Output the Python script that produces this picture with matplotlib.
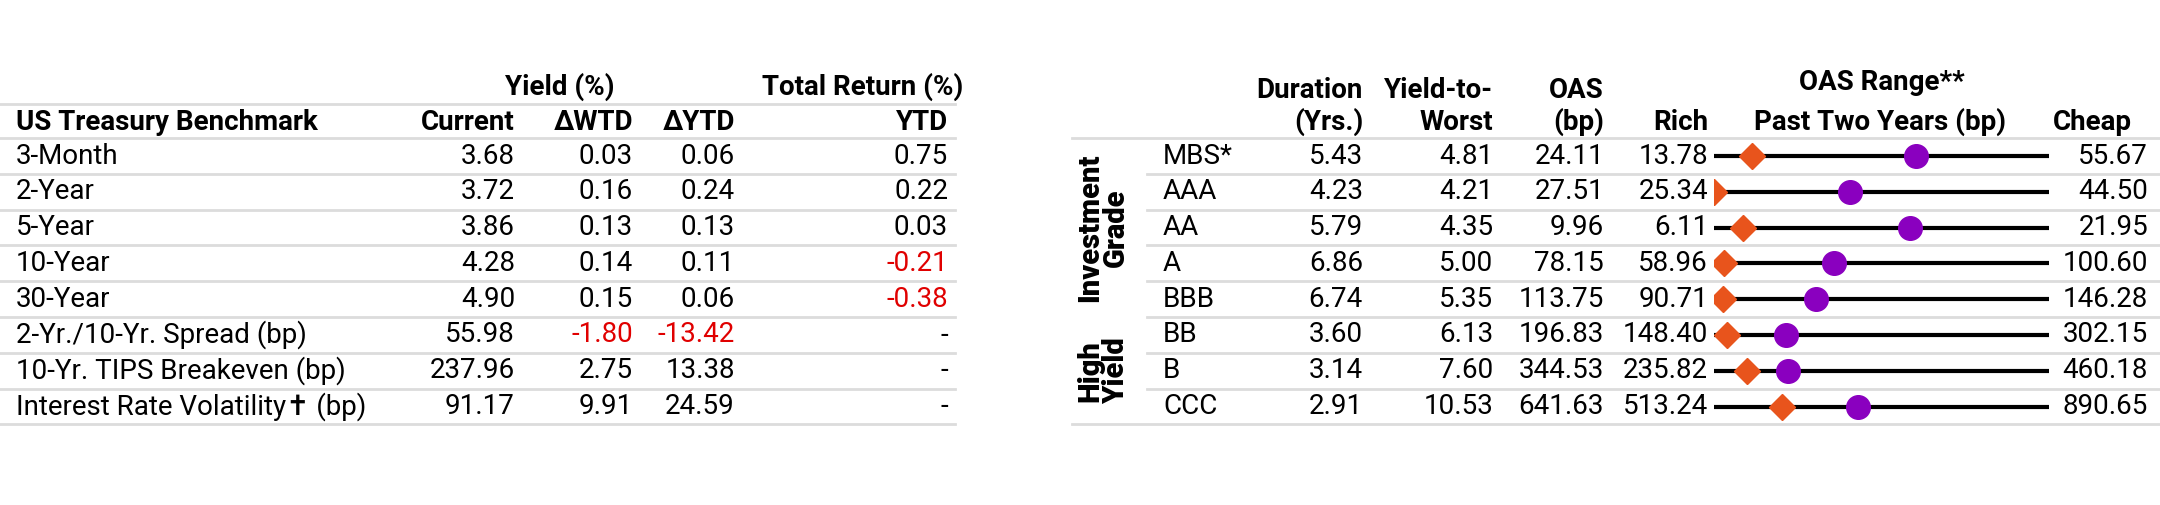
import matplotlib
matplotlib.use("Agg")
import matplotlib.pyplot as plt

plt.rcParams["font.family"] = ["Roboto", "DejaVu Sans"]

# ── Left table: US Treasury benchmarks ─────────────────────────────────────
tsy_names = ["3-Month", "2-Year", "5-Year", "10-Year", "30-Year",
             "2-Yr./10-Yr. Spread (bp)", "10-Yr. TIPS Breakeven (bp)",
             "Interest Rate Volatility\u271d (bp)"]
tsy_current = ["3.68", "3.72", "3.86", "4.28", "4.90", "55.98", "237.96", "91.17"]
tsy_wtd = ["0.03", "0.16", "0.13", "0.14", "0.15", "-1.80", "2.75", "9.91"]
tsy_ytd = ["0.06", "0.24", "0.13", "0.11", "0.06", "-13.42", "13.38", "24.59"]
tsy_tr_ytd = ["0.75", "0.22", "0.03", "-0.21", "-0.38", "-", "-", "-"]

# ── Right table: credit sectors ───────────────────────────────────────────
sectors = ["MBS*", "AAA", "AA", "A", "BBB", "BB", "B", "CCC"]
duration = ["5.43", "4.23", "5.79", "6.86", "6.74", "3.60", "3.14", "2.91"]
ytw = ["4.81", "4.21", "4.35", "5.00", "5.35", "6.13", "7.60", "10.53"]
oas = ["24.11", "27.51", "9.96", "78.15", "113.75", "196.83", "344.53", "641.63"]
rich = [13.78, 25.34, 6.11, 58.96, 90.71, 148.40, 235.82, 513.24]
cheap = [55.67, 44.50, 21.95, 100.60, 146.28, 302.15, 460.18, 890.65]
diamond_bp = [18.5, 25.34, 7.5, 60.2, 92.2, 154.4, 258.0, 589.9]
circle_bp = [39.0, 33.1, 15.4, 73.9, 107.6, 181.5, 285.4, 675.5]

W, H = 2160, 505
FS = 20
RED = "#e00000"
ORANGE = "#e8541c"
PURPLE = "#8a00bf"
GRID = "#dcdcdc"

fig = plt.figure(figsize=(W / 100, H / 100), dpi=100)
ax = fig.add_axes([0, 0, 1, 1])
ax.set_xlim(0, W)
ax.set_ylim(H, 0)
ax.axis("off")

row_y = [156 + 35.8 * i for i in range(8)]
lines_y = [138 + 35.8 * i for i in range(9)]

def is_neg(s):
    return s.startswith("-") and len(s) > 1

# left table
ax.text(560, 87, "Yield (%)", ha="center", va="center", fontsize=FS, fontweight="bold")
ax.text(963, 87, "Total Return (%)", ha="right", va="center", fontsize=FS, fontweight="bold")
ax.plot([0, 955], [104, 104], color=GRID, lw=2)
ax.text(16, 122, "US Treasury Benchmark", ha="left", va="center", fontsize=FS, fontweight="bold")
for x, lab in zip([515, 633, 735, 948], ["Current", "\u0394WTD", "\u0394YTD", "YTD"]):
    ax.text(x, 122, lab, ha="right", va="center", fontsize=FS, fontweight="bold")
for y in lines_y:
    ax.plot([0, 955], [y, y], color=GRID, lw=2)
for i, y in enumerate(row_y):
    ax.text(16, y, tsy_names[i], ha="left", va="center", fontsize=FS)
    for x, col in zip([515, 633, 735, 948], [tsy_current, tsy_wtd, tsy_ytd, tsy_tr_ytd]):
        v = col[i]
        ax.text(x, y, v, ha="right", va="center", fontsize=FS,
                color=RED if is_neg(v) else "black")

# right table headers
for x, top, bot in [(1363, "Duration", "(Yrs.)"), (1493, "Yield-to-", "Worst"),
                    (1604, "OAS", "(bp)")]:
    ax.text(x, 90, top, ha="right", va="center", fontsize=FS, fontweight="bold")
    ax.text(x, 122, bot, ha="right", va="center", fontsize=FS, fontweight="bold")
ax.text(1708, 122, "Rich", ha="right", va="center", fontsize=FS, fontweight="bold")
ax.text(1882, 83, "OAS Range**", ha="center", va="center", fontsize=FS, fontweight="bold")
ax.text(1880, 122, "Past Two Years (bp)", ha="center", va="center", fontsize=FS, fontweight="bold")
ax.text(2092, 122, "Cheap", ha="center", va="center", fontsize=FS, fontweight="bold")

ax.plot([1072, W], [lines_y[0], lines_y[0]], color=GRID, lw=2)
ax.plot([1072, W], [lines_y[-1], lines_y[-1]], color=GRID, lw=2)
for y in lines_y[1:-1]:
    ax.plot([1147, W], [y, y], color=GRID, lw=2)

ax.text(1103, (lines_y[0] + lines_y[5]) / 2, "Investment\nGrade", rotation=90,
        ha="center", va="center", fontsize=FS + 1, fontweight="black", linespacing=0.9)
ax.text(1103, (lines_y[5] + lines_y[8]) / 2, "High\nYield", rotation=90,
        ha="center", va="center", fontsize=FS + 1, fontweight="black", linespacing=0.9)

LX0, LX1 = 1714, 2049
for i, y in enumerate(row_y):
    ax.text(1163, y, sectors[i], ha="left", va="center", fontsize=FS)
    ax.text(1363, y, duration[i], ha="right", va="center", fontsize=FS)
    ax.text(1493, y, ytw[i], ha="right", va="center", fontsize=FS)
    ax.text(1604, y, oas[i], ha="right", va="center", fontsize=FS)
    ax.text(1708, y, f"{rich[i]:.2f}", ha="right", va="center", fontsize=FS)
    ax.text(2148, y, f"{cheap[i]:.2f}", ha="right", va="center", fontsize=FS)

    # range strip for this row, scaled from rich to cheap
    rax = fig.add_axes([LX0 / W, 1 - (y + 15) / H, (LX1 - LX0) / W, 30 / H])
    rax.set_xlim(rich[i], cheap[i])
    rax.set_ylim(-1, 1)
    rax.axis("off")
    rax.plot([rich[i], cheap[i]], [0, 0], color="black", lw=3, solid_capstyle="butt")
    rax.plot(circle_bp[i], 0, "o", color=PURPLE, ms=17, zorder=3)
    rax.plot(diamond_bp[i], 0, "D", color=ORANGE, ms=13, zorder=4)

fig.savefig("out.png", dpi=100)
